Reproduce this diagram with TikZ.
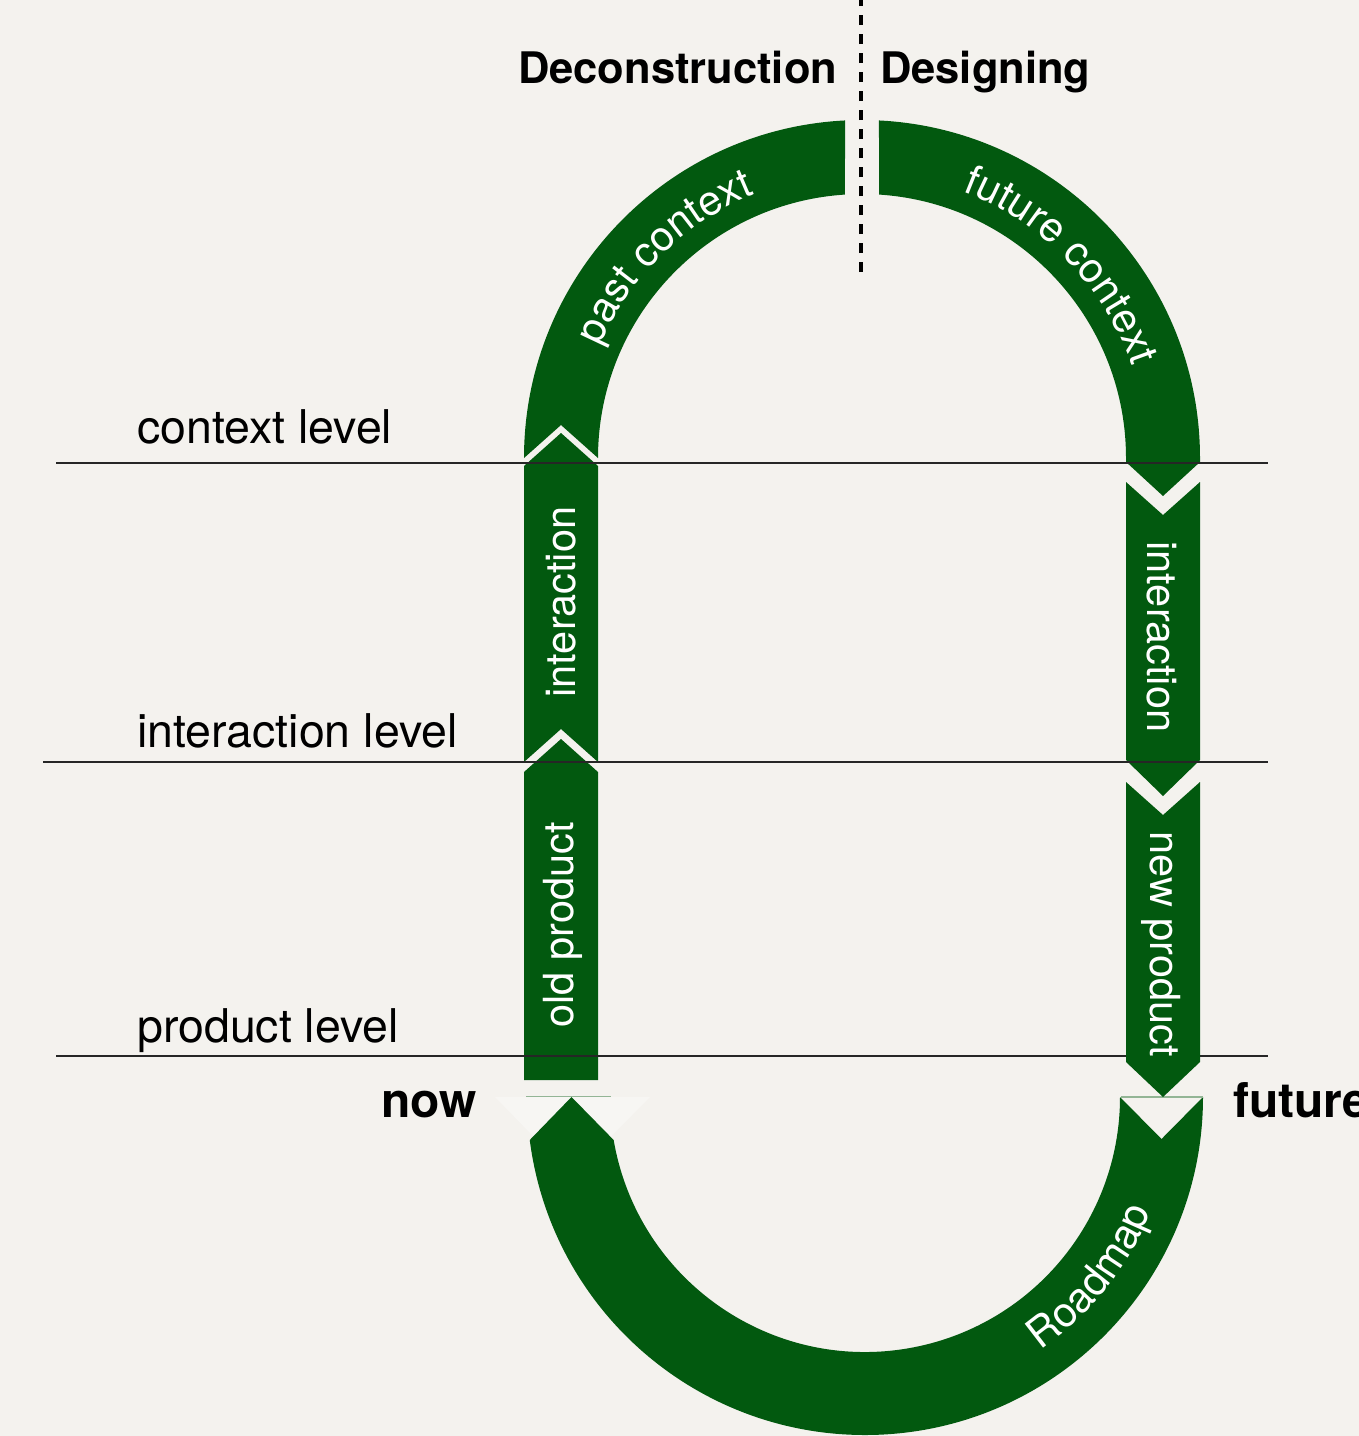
\documentclass[tikz,border=0pt]{standalone}
\usepackage{fontspec}
\usetikzlibrary{calc,decorations.text}
\newfontfamily\heros{TeX Gyre Heros}
\definecolor{bgc}{HTML}{F4F2EE}
\definecolor{grn}{HTML}{02590F}
\definecolor{lite}{HTML}{F7F6F3}
\newcommand\bandfont{\heros\fontsize{41.5}{49}\selectfont}
\newcommand\levelfont{\heros\fontsize{46.5}{55}\selectfont}
\newcommand\headfont{\heros\bfseries\fontsize{43.5}{52}\selectfont}
\newcommand\termfont{\heros\bfseries\fontsize{48}{57}\selectfont}
\begin{document}
\begin{tikzpicture}[x=1pt,y=-1pt,
  band/.style={fill=grn},
  lvl/.style={draw=black!85,line width=1.3pt},
  lvltext/.style={anchor=base west,inner sep=0pt,font=\levelfont,text=black},
  headtext/.style={anchor=base west,inner sep=0pt,font=\headfont,text=black},
  termtext/.style={anchor=base west,inner sep=0pt,font=\termfont,text=black},
  bandtext/.style={inner sep=0pt,font=\bandfont,text=white},
  faint/.style={draw=grn!40!bgc,line width=1.2pt}]
\useasboundingbox (0,0) rectangle (1359,1436);
\fill[bgc] (0,0) rectangle (1359,1436);
\coordinate (T) at (862,458);
\coordinate (B) at (865,1097);

% faint lighter wedge at "now"
\fill[lite] (495,1097) -- (650,1097) -- (572,1176) -- cycle;

% past context arc
\fill[band] ($(T)+(267.12:338)$) arc[start angle=267.12, end angle=180, radius=338]
  -- (561,425) -- (598,458) arc[start angle=180, end angle=266.3, radius=264] -- cycle;
% future context arc
\fill[band] ($(T)+(272.88:338)$) arc[start angle=272.88, end angle=360, radius=338]
  -- (1200,462) -- (1163,496) -- (1126,462) -- (1126,458)
  arc[start angle=360, end angle=273.7, radius=264] -- cycle;
% left interaction
\fill[band] (524,466) -- (561,433) -- (598,466) -- (598,762) -- (561,729) -- (524,762) -- cycle;
% old product
\fill[band] (524,772) -- (561,739) -- (598,772) -- (598,1080) -- (524,1080) -- cycle;
% right interaction
\fill[band] (1126,482) -- (1163,515) -- (1200,482) -- (1200,760) -- (1163,796) -- (1126,760) -- cycle;
% roadmap
\fill[band] (1203,1097) arc[start angle=0, end angle=172.69, radius=338]
  -- (571.5,1097) -- ($(B)+(170.29:255)$) arc[start angle=170.29, end angle=0, radius=255]
  -- (1161.5,1139) -- cycle;

\draw[faint] (526,1096.5) -- (611,1096.5);
\draw[faint] (1121,1097) -- (1203,1097);

% level lines
\draw[lvl] (56,463) -- (1268,463);
\draw[lvl] (43,762) -- (1268,762);
\draw[lvl] (56,1056) -- (1268,1056);

% new product
\fill[band] (1126,782) -- (1163,815) -- (1200,782) -- (1200,1062) -- (1163,1097) -- (1126,1062) -- cycle;

% dotted divider
\draw[line width=4.5pt, dash pattern=on 10pt off 9pt] (861,272) -- (861,0);

% headings
\node[headtext] (decon) at (518,83) {Deconstruction};
\node[headtext] (design) at (880,83) {Designing};
\node[termtext] (now) at (381,1117) {now};
\node[termtext] (future) at (1233,1117) {future};

% level labels
\node[lvltext] (ctxlvl) at (137,443) {context level};
\node[lvltext] (intlvl) at (137,747) {interaction level};
\node[lvltext] (prodlvl) at (137,1042) {product level};

% band labels
\node[bandtext, rotate=90] (intL) at (561,602) {interaction};
\node[bandtext, rotate=90] (oldp) at (563,925) {old product};
\node[bandtext, rotate=-90] (intR) at (1162,637) {interaction};
\node[bandtext, rotate=-90] (newp) at (1161,944) {new product};

\path[decorate, decoration={text along path, text align=center,
   text={|\bandfont\color{white}|past context}}]
   ($(T)+(190:285)$) arc[start angle=190, end angle=261, radius=285];
\path[decorate, decoration={text along path, text align=center,
   text={|\bandfont\color{white}|future context}}]
   ($(T)+(281:285)$) arc[start angle=281, end angle=351, radius=285];
\path[decorate, decoration={text along path, text align=center,
   text={|\bandfont\color{white}|Roadmap}}]
   ($(B)+(70:308)$) arc[start angle=70, end angle=7, radius=308];
\end{tikzpicture}
\end{document}
